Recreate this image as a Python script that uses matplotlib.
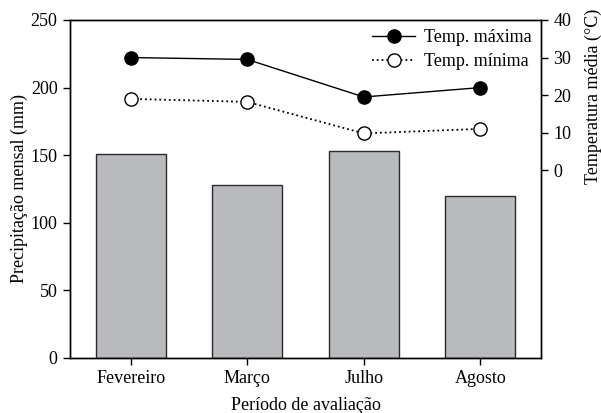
import matplotlib
matplotlib.use("Agg")
import matplotlib.pyplot as plt
import numpy as np

plt.rcParams['font.family'] = ['Liberation Serif', 'DejaVu Serif']
plt.rcParams['font.size'] = 13

# Data
meses = ['Fevereiro', 'Março', 'Julho', 'Agosto']
precipitacao = [151, 128, 153, 120]
temp_max = [30.0, 29.5, 19.5, 22.0]
temp_min = [19.0, 18.2, 9.8, 11.0]

x = np.arange(len(meses))

fig, ax = plt.subplots(figsize=(6.01, 4.13), dpi=100)
fig.subplots_adjust(left=0.1165, right=0.900, top=0.9516, bottom=0.1332)

ax.bar(x, precipitacao, width=0.6, color='#b9babe', edgecolor='#2a2a2a', linewidth=1.0, zorder=2)
ax.set_xlim(-0.52, 3.52)
ax.set_ylim(0, 250)
ax.set_yticks([0, 50, 100, 150, 200, 250])
ax.set_xticks(x)
ax.set_xticklabels(meses)
ax.set_xlabel('Período de avaliação', labelpad=7)
ax.set_ylabel('Precipitação mensal (mm)', labelpad=2)
ax.tick_params(direction='out', length=5, width=1, pad=4)

ax2 = ax.twinx()
ax2.plot(x, temp_max, '-', color='black', marker='o', markersize=9.5,
         markerfacecolor='black', markeredgecolor='black', linewidth=1.0,
         label='Temp. máxima')
ax2.plot(x, temp_min, ':', color='black', marker='o', markersize=9.5,
         markerfacecolor='white', markeredgecolor='black', linewidth=1.3,
         label='Temp. mínima')
ax2.set_ylim(-50, 40)
ax2.set_yticks([0, 10, 20, 30, 40])
ax2.tick_params(direction='out', length=5, width=1, pad=4)
ax2.set_ylabel('Temperatura média (°C)')
ax2.yaxis.set_label_coords(1.093, 0.775)

for a in (ax, ax2):
    for s in a.spines.values():
        s.set_linewidth(1.0)

ax2.legend(loc='upper right', frameon=False, handlelength=2.4,
           borderaxespad=0.1, labelspacing=0.4, handletextpad=0.5)

fig.savefig('out.png', dpi=100)
